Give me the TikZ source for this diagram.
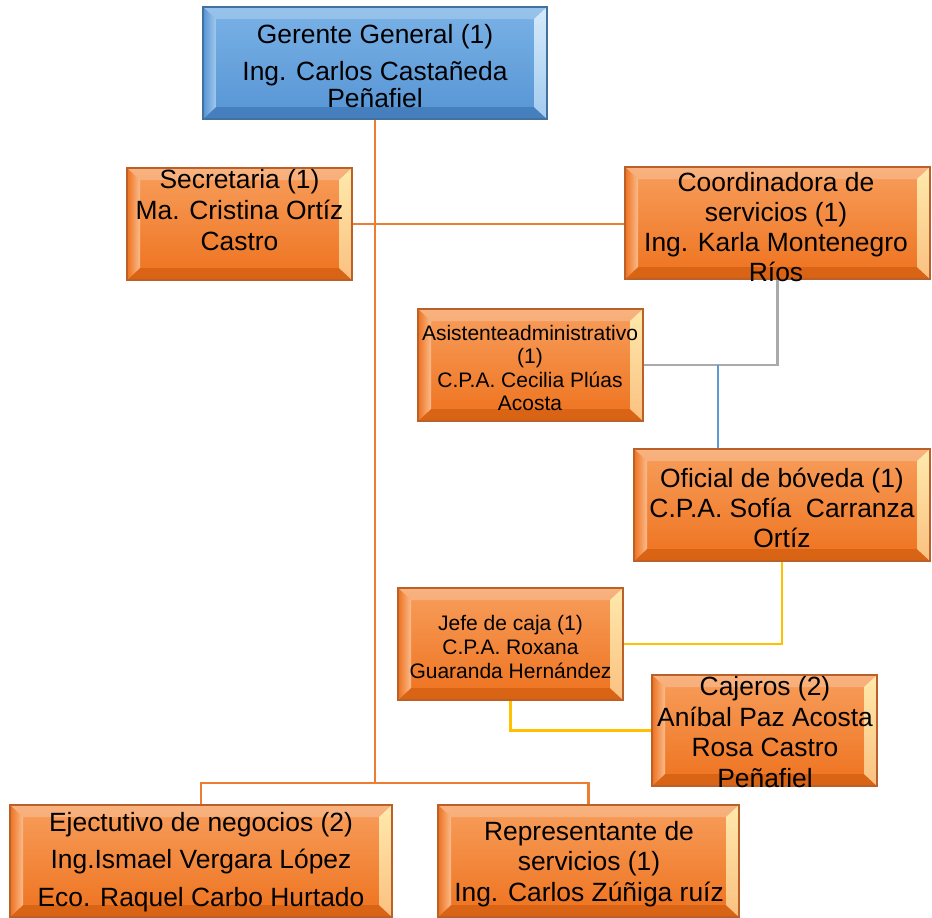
\documentclass[tikz,border=0pt]{standalone}
\usepackage{fontspec}
\setmainfont{Liberation Sans}
\usetikzlibrary{calc}

% orange bevel scheme
\definecolor{otop}{RGB}{247,158,92}
\definecolor{obot}{RGB}{238,114,30}
\definecolor{oedge}{RGB}{188,96,42}
\definecolor{ohi}{RGB}{254,234,172}
\definecolor{olo}{RGB}{212,96,18}
% blue bevel scheme
\definecolor{btop}{RGB}{122,178,230}
\definecolor{bbot}{RGB}{86,148,212}
\definecolor{bedge}{RGB}{65,113,156}
\definecolor{bhi}{RGB}{214,234,250}
\definecolor{blo}{RGB}{66,122,184}
% connector colours
\definecolor{lnorange}{RGB}{237,125,49}
\definecolor{lngray}{RGB}{170,170,170}
\definecolor{lnblue}{RGB}{91,155,213}
\definecolor{lnyellow}{RGB}{255,192,0}

\tikzset{
  bevelbox/.style={rectangle, inner sep=0pt, draw=#1edge, line width=1.3pt,
    top color=#1top, bottom color=#1bot,
    path picture={
      \coordinate (bNW) at (path picture bounding box.north west);
      \coordinate (bNE) at (path picture bounding box.north east);
      \coordinate (bSW) at (path picture bounding box.south west);
      \coordinate (bSE) at (path picture bounding box.south east);
      \coordinate (iNW) at ([xshift=13pt,yshift=-12pt]bNW);
      \coordinate (iNE) at ([xshift=-13pt,yshift=-12pt]bNE);
      \coordinate (iSW) at ([xshift=13pt,yshift=12pt]bSW);
      \coordinate (iSE) at ([xshift=-13pt,yshift=12pt]bSE);
      \fill[white,opacity=.22] (bNW) -- (bNE) -- (iNE) -- (iNW) -- cycle;
      \fill[#1lo,opacity=.8] (bSW) -- (bSE) -- (iSE) -- (iSW) -- cycle;
      \shade[top color=#1hi,bottom color=#1hi!45!#1top] (bNE) -- (bSE) -- (iSE) -- (iNE) -- cycle;
      \shade[left color=#1bot,right color=#1top!70!white] (bNW) -- (bSW) -- (iSW) -- (iNW) -- cycle;
    }},
  big/.style={align=center, inner sep=0pt, font=\fontsize{26.4}{#1}\selectfont},
  small/.style={align=center, inner sep=0pt, font=\fontsize{21}{#1}\selectfont},
  orgline/.style={draw=lnorange, line width=2.8pt},
  grayline/.style={draw=lngray, line width=2.8pt},
  blueline/.style={draw=lnblue, line width=1.2pt},
  yelline/.style={draw=lnyellow, line width=2.8pt},
}

\begin{document}
\begin{tikzpicture}[x=1pt,y=-1pt]
\useasboundingbox (0,0) rectangle (932,918);

% boxes (centre, width, height)
\node[bevelbox=b, minimum width=344pt, minimum height=112pt] (gg)   at (375,63)    {};
\node[bevelbox=o, minimum width=225pt, minimum height=112pt] (sec)  at (239.5,224) {};
\node[bevelbox=o, minimum width=305pt, minimum height=112pt] (coo)  at (777.5,223) {};
\node[bevelbox=o, minimum width=225pt, minimum height=112pt] (asi)  at (530.5,365) {};
\node[bevelbox=o, minimum width=296pt, minimum height=112pt] (ofi)  at (782,505)   {};
\node[bevelbox=o, minimum width=225pt, minimum height=112pt] (jef)  at (510.5,644) {};
\node[bevelbox=o, minimum width=225pt, minimum height=111pt] (caj)  at (764.5,730.5) {};
\node[bevelbox=o, minimum width=382pt, minimum height=112pt] (eje)  at (201,861)   {};
\node[bevelbox=o, minimum width=301pt, minimum height=112pt] (rep)  at (588.5,861) {};

% connectors
\coordinate (jn) at (375,783);
\coordinate (bj) at (718,365);
\draw[orgline] (gg.south) -- (jn);
\draw[orgline] (sec.east) -- (sec.east -| coo.west);
\draw[orgline] (jn) -| (eje.north);
\draw[orgline] (jn) -| (rep.north);
\draw[grayline] (coo.south) |- (asi.east);
\draw[blueline] (bj) -- (bj |- ofi.north);
\draw[yelline] (ofi.south) |- (jef.east);
\draw[yelline] (jef.south) |- (caj.west);

% texts
\node[big=27] (gg-t) at (375,66) {Gerente General (1)\\[10pt]Ing. Carlos Castañeda\\Peñafiel};
\node[big=31] (sec-t) at (239.5,210) {Secretaria (1)\\Ma. Cristina Ortíz\\Castro};
\node[big=30] (coo-t) at (776,227) {Coordinadora de\\servicios (1)\\Ing. Karla Montenegro\\Ríos};
\node[small=23.5] (asi-t) at (530,368) {Asistenteadministrativo\\(1)\\C.P.A. Cecilia Plúas\\Acosta};
\node[big=30] (ofi-t) at (782,508) {Oficial de bóveda (1)\\C.P.A. Sofía\ \ Carranza\\Ortíz};
\node[small=24] (jef-t) at (510.5,647) {Jefe de caja (1)\\C.P.A. Roxana\\Guaranda Hernández};
\node[big=30.5] (caj-t) at (765,732) {Cajeros (2)\\Aníbal Paz Acosta\\Rosa Castro\\Peñafiel};
\node[big=37.5] (eje-t) at (201,862) {Ejectutivo de negocios (2)\\Ing.Ismael Vergara López\\Eco. Raquel Carbo Hurtado};
\node[big=30.5] (rep-t) at (589,864) {Representante de\\servicios (1)\\Ing. Carlos Zúñiga ruíz};
\end{tikzpicture}
\end{document}
